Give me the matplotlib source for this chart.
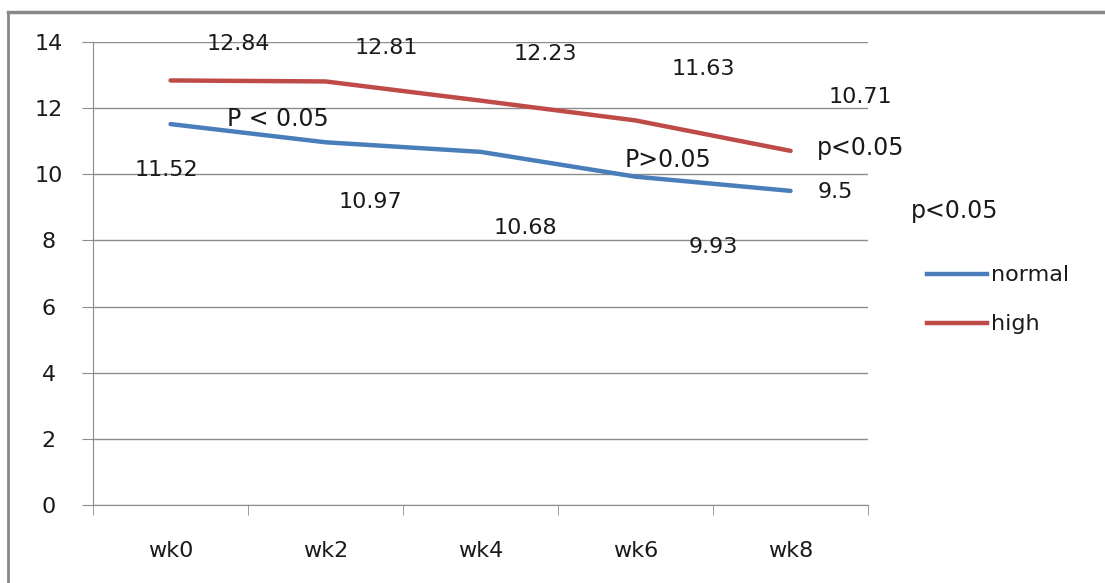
import matplotlib.pyplot as plt
from matplotlib.lines import Line2D

weeks = ["wk0", "wk2", "wk4", "wk6", "wk8"]
normal = [11.52, 10.97, 10.68, 9.93, 9.5]
high = [12.84, 12.81, 12.23, 11.63, 10.71]

# label positions, given as offsets from each point (x in categories, y in data units)
normal_offsets = [(-0.03, -1.39), (0.29, -1.81), (0.29, -2.30), (0.50, -2.13), (0.29, -0.04)]
high_offsets = [(0.44, 1.10), (0.39, 1.01), (0.42, 1.41), (0.44, 1.55), (0.45, 1.63)]

# p-value notes: (text, x, y) in data coords
notes = [("P < 0.05", 0.69, 11.67), ("P>0.05", 3.21, 10.43),
         ("p<0.05", 4.45, 10.80), ("p<0.05", 5.06, 8.89)]

plt.rcParams["font.family"] = ["DejaVu Sans"]
blue = "#4a7ebb"
red = "#be4b48"
grid = "#8c8c8c"
ink = "#1a1a1a"

fig = plt.figure(figsize=(11.05, 5.83), dpi=100)
ax = fig.add_axes([0.0842, 0.1338, 0.7014, 0.794])

x = range(len(weeks))
ax.plot(x, normal, color=blue, lw=3.2, solid_capstyle="round", label="normal")
ax.plot(x, high, color=red, lw=3.2, solid_capstyle="round", label="high")

fs = 16
for i, v in enumerate(normal):
    dx, dy = normal_offsets[i]
    ax.text(i + dx, v + dy, f"{v:g}", ha="center", va="center", fontsize=fs, color=ink)
for i, v in enumerate(high):
    dx, dy = high_offsets[i]
    ax.text(i + dx, v + dy, f"{v:g}", ha="center", va="center", fontsize=fs, color=ink)
for t, nx, ny in notes:
    ax.text(nx, ny, t, ha="center", va="center", fontsize=17, color=ink, clip_on=False)

ax.set_xlim(-0.5, 4.5)
ax.set_ylim(0, 14)
ax.set_yticks(range(0, 15, 2))
ax.yaxis.grid(True, color=grid, lw=1)
ax.set_axisbelow(True)
ax.set_xticks(x)
ax.set_xticklabels(weeks)
ax.set_xticks([i - 0.5 for i in range(6)], minor=True)
ax.tick_params(axis="x", which="major", length=0, pad=26, labelsize=fs, labelcolor=ink)
ax.tick_params(axis="x", which="minor", length=7, color=grid)
ax.tick_params(axis="y", length=8, color=grid, pad=24, labelsize=fs, labelcolor=ink)
for lbl in ax.get_yticklabels():
    lbl.set_horizontalalignment("center")
for s in ["top", "right"]:
    ax.spines[s].set_visible(False)
for s in ["left", "bottom"]:
    ax.spines[s].set_color(grid)

ax.legend(handles=[Line2D([], [], color=blue, lw=3.2), Line2D([], [], color=red, lw=3.2)],
          labels=["normal", "high"], loc="center left", bbox_to_anchor=(1.05, 0.443),
          frameon=False, fontsize=fs, handlelength=2.7, handletextpad=0.2,
          labelspacing=1.3, labelcolor=ink)

# outer chart border (top and left visible)
fig.add_artist(Line2D([8 / 1105, 8 / 1105], [0, 1 - 12 / 583], color="#888888", lw=2))
fig.add_artist(Line2D([8 / 1105, 1], [1 - 12 / 583, 1 - 12 / 583], color="#888888", lw=2.5))

fig.savefig("out.png", dpi=100)
